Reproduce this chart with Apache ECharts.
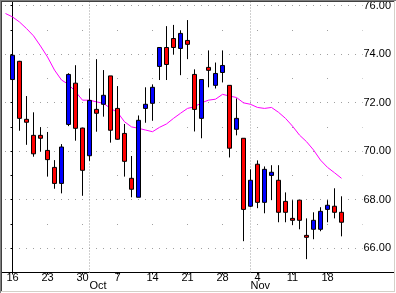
<!DOCTYPE html>
<html><head><meta charset="utf-8">
<script src="https://cdn.jsdelivr.net/npm/echarts@6/dist/echarts.min.js"></script>
<style>html,body{margin:0;padding:0;background:#fff;}#c{width:396px;height:293px;}</style>
</head><body><div id="c"></div>
<script>
// Trading-day index of each Monday label (Sep 16 2002 = 0)
const dayIndex = [0, 5, 10, 15, 20, 25, 30, 35, 40, 45];
const dayLabels = ['16', '23', '30', '7', '14', '21', '28', '4', '11', '18'];
const monthIndex = [11, 34];
const monthLabels = ['Oct', 'Nov'];
const yLabelValues = [66, 68, 70, 72, 74, 76];

const openP  = [72.95,73.70,71.31,70.65,70.65,70.03,69.33,68.67,71.10,72.80,70.95,69.81,71.72,71.93,73.10,71.76,
                70.73,68.88,68.10,71.76,71.97,73.49,74.27,74.64,74.23,74.56,73.16,71.35,73.45,72.71,73.24,72.71,
                70.90,70.53,67.73,69.46,67.89,69.00,68.80,67.93,67.23,67.98,66.53,66.78,66.78,67.60,67.73,67.48];
const closeP = [73.95,71.35,71.19,69.89,70.53,69.65,68.67,70.17,73.16,70.94,69.21,72.09,71.56,72.30,70.86,70.49,
                69.58,68.43,71.27,71.93,72.63,74.27,73.57,74.27,74.85,74.40,71.72,72.95,73.33,73.20,73.53,70.12,
                71.35,67.60,68.80,67.89,69.25,69.13,67.48,67.48,67.15,67.15,66.45,67.15,67.52,67.77,67.48,67.07];
const lowP   = [72.57,70.84,70.26,69.77,69.98,68.95,68.45,68.26,71.03,70.43,68.16,69.60,70.80,71.42,70.35,70.47,
                68.95,68.10,68.10,71.17,71.25,72.93,72.93,73.98,73.13,73.79,70.81,70.53,72.63,72.58,72.83,69.74,
                70.65,66.29,67.69,67.65,67.44,67.98,67.07,67.07,66.95,66.78,65.55,66.37,66.70,67.07,67.23,66.49];
const highP  = [74.07,73.72,72.27,71.60,70.99,70.79,69.63,70.29,73.21,73.54,70.95,72.58,73.79,73.34,73.10,72.68,
                71.12,69.80,71.47,72.63,72.75,74.27,75.15,75.20,74.98,75.40,73.37,72.95,74.15,73.65,74.15,72.71,
                72.17,70.53,69.25,69.62,69.37,69.42,69.42,68.30,67.98,67.98,67.23,67.48,67.69,67.98,68.47,68.14];

const maStart = -1;
const maValues = [75.67,75.53,75.32,75.05,74.75,74.33,73.88,73.34,72.93,72.75,72.45,72.10,72.10,72.03,71.97,71.76,71.60,
                  71.21,71.00,70.94,70.87,70.80,70.98,71.12,71.35,71.56,71.76,71.83,71.99,72.10,72.14,72.34,72.27,
                  72.21,71.99,71.93,71.80,71.76,71.80,71.60,71.35,71.03,70.66,70.39,70.05,69.63,69.33,69.11,68.88];

const X_MIN = -1.5, X_MAX = 50, Y_MIN = 65, Y_MAX = 76.22;
const FONT = 'Liberation Sans';
const GRID = {left: 2, right: 33.5, top: 0, bottom: 20.5};

const chart = echarts.init(document.getElementById('c'), null, {renderer: 'canvas'});
const candleData = openP.map((o, i) => [i, o, closeP[i], lowP[i], highP[i]]);
const maData = maValues.map((v, k) => [maStart + k, v]);

const option = {
  animation: false,
  backgroundColor: '#ffffff',
  grid: [Object.assign({}, GRID), Object.assign({}, GRID)],
  xAxis: [
    {
      type: 'value', gridIndex: 0, min: X_MIN, max: X_MAX, position: 'bottom',
      axisLine: {show: true, onZero: false, lineStyle: {color: '#000', width: 1}},
      axisTick: {show: true, customValues: dayIndex, length: 2, lineStyle: {color: '#000'}},
      splitLine: {show: false},
      axisLabel: {
        show: true, customValues: dayIndex, margin: 0,
        fontFamily: FONT, fontSize: 11, color: '#000',
        formatter: v => dayLabels[dayIndex.indexOf(v)] || ''
      }
    },
    {
      type: 'value', gridIndex: 1, min: X_MIN, max: X_MAX, position: 'bottom',
      axisLine: {show: false}, axisTick: {show: false}, splitLine: {show: false},
      axisLabel: {
        show: true, customValues: monthIndex, margin: 8, align: 'left',
        fontFamily: FONT, fontSize: 11, color: '#000',
        formatter: v => monthLabels[monthIndex.indexOf(v)] || ''
      }
    }
  ],
  yAxis: [
    {
      type: 'value', gridIndex: 0, min: Y_MIN, max: Y_MAX, interval: 1, position: 'right',
      axisLine: {show: true, lineStyle: {color: '#000', width: 1}},
      axisTick: {show: true, inside: true, length: 2, lineStyle: {color: '#000'}},
      axisLabel: {
        show: true, margin: 1, fontFamily: FONT, fontSize: 11, color: '#000', align: 'left',
        formatter: v => yLabelValues.indexOf(v) >= 0 ? v.toFixed(2) : ''
      },
      splitLine: {show: true, lineStyle: {color: ['rgba(0,0,0,0)', '#a0a0a0'], width: 1, type: [1, 6], dashOffset: 4}}
    },
    {
      type: 'value', gridIndex: 0, min: Y_MIN, max: Y_MAX, interval: 1, position: 'right',
      axisLine: {show: false}, axisTick: {show: false}, axisLabel: {show: false},
      splitLine: {show: true, showMinLine: false, showMaxLine: false,
        lineStyle: {color: '#a0a0a0', width: 1, type: [1, 34], dashOffset: 25}}
    },
    {
      type: 'value', gridIndex: 1, min: Y_MIN, max: Y_MAX, show: false
    }
  ],
  series: monthIndex.map(m => ({
    type: 'line', xAxisIndex: 0, yAxisIndex: 0, silent: true, z: 1,
    data: [[m, Y_MIN], [m, Y_MAX]], symbol: 'none',
    lineStyle: {color: '#a0a0a0', width: 1, type: [1, 2]}
  })).concat([
    {
      type: 'line', xAxisIndex: 0, yAxisIndex: 0, z: 2, silent: true,
      data: maData, symbol: 'none',
      lineStyle: {color: '#ff00ff', width: 1}
    },
    {
      type: 'candlestick', xAxisIndex: 0, yAxisIndex: 0, z: 3, silent: true,
      data: candleData, barWidth: 4,
      itemStyle: {color: '#0000ff', color0: '#ff0000', borderColor: '#000', borderColor0: '#000', borderWidth: 1}
    }
  ]),
  graphic: {elements: [
    {type: 'line', z: 100, shape: {x1: 362, y1: 272.5, x2: 394, y2: 272.5}, style: {stroke: '#000', lineWidth: 1}},
    {type: 'line', z: 100, shape: {x1: 0, y1: 0.5, x2: 396, y2: 0.5}, style: {stroke: '#808080', lineWidth: 1}},
    {type: 'line', z: 100, shape: {x1: 0.5, y1: 0, x2: 0.5, y2: 293}, style: {stroke: '#808080', lineWidth: 1}},
    {type: 'line', z: 100, shape: {x1: 1, y1: 1.5, x2: 394, y2: 1.5}, style: {stroke: '#404040', lineWidth: 1}},
    {type: 'line', z: 100, shape: {x1: 1.5, y1: 1, x2: 1.5, y2: 292}, style: {stroke: '#404040', lineWidth: 1}},
    {type: 'line', z: 100, shape: {x1: 1, y1: 291.5, x2: 395, y2: 291.5}, style: {stroke: '#d4d0c8', lineWidth: 1}},
    {type: 'line', z: 100, shape: {x1: 394.5, y1: 1, x2: 394.5, y2: 292}, style: {stroke: '#d4d0c8', lineWidth: 1}}
  ]}
};
chart.setOption(option);
</script>
</body></html>
